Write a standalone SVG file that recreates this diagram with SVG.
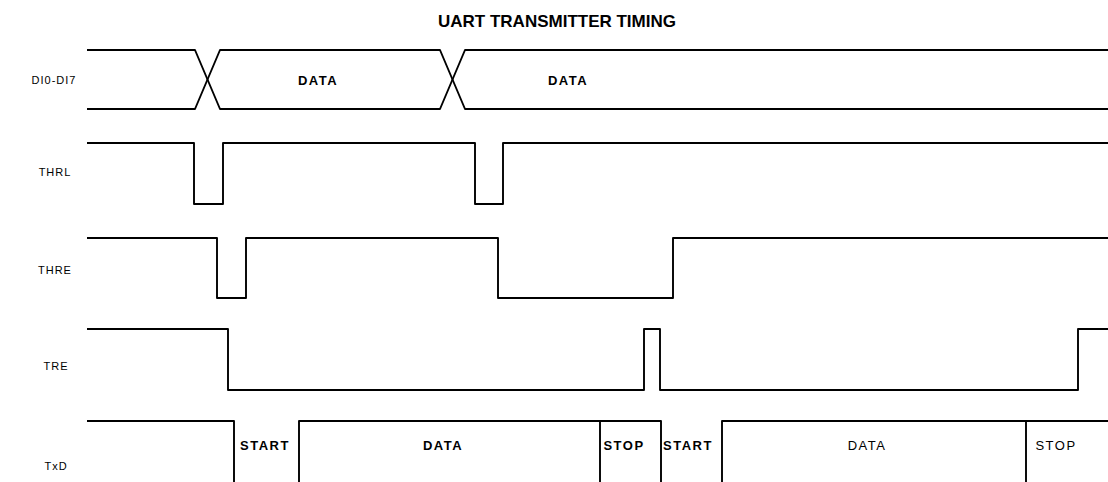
<svg xmlns="http://www.w3.org/2000/svg" width="1108" height="482" viewBox="0 0 1108 482">
<style>
.sig{fill:none;stroke:#000;stroke-width:1.9;stroke-linejoin:round;stroke-linecap:butt}
.lbl{font-family:"Liberation Sans",Arial,sans-serif;font-size:11px;fill:#000;letter-spacing:1px}
.dt{font-family:"Liberation Sans",Arial,sans-serif;font-size:13px;font-weight:bold;fill:#000;letter-spacing:1.5px}
.dl{font-family:"Liberation Sans",Arial,sans-serif;font-size:13px;fill:#000;letter-spacing:1.5px}
.title{font-family:"Liberation Sans",Arial,sans-serif;font-size:17px;font-weight:bold;fill:#000}
</style>
<rect width="1108" height="482" fill="#fff"/>
<text class="title" x="557" y="27" text-anchor="middle">UART TRANSMITTER TIMING</text>
<g id="connectors">
<g id="sig-di">
<path class="sig" d="M87,50 H195 L220,109 H440 L465,50 H1108"/>
<path class="sig" d="M87,109 H195 L220,50 H440 L465,109 H1108"/>
</g>
<path id="sig-thrl" class="sig" d="M87,143 H194 V204 H223 V143 H475 V204 H503 V143 H1108"/>
<path id="sig-thre" class="sig" d="M87,238 H217 V298 H246 V238 H498 V298 H673 V238 H1108"/>
<path id="sig-tre" class="sig" d="M87,329 H228 V390 H644 V329 H660 V390 H1078 V329 H1108"/>
<g id="sig-txd">
<path class="sig" d="M87,421 H234 V482"/>
<path class="sig" d="M299,482 V421 H661 V482"/>
<path class="sig" d="M600,421 V482"/>
<path class="sig" d="M722,482 V421 H1108"/>
<path class="sig" d="M1026,421 V482"/>
</g>
</g>
<g id="label-di"><text class="lbl" x="54" y="84" text-anchor="middle">DI0-DI7</text></g>
<g id="label-thrl"><text class="lbl" x="55" y="176" text-anchor="middle">THRL</text></g>
<g id="label-thre"><text class="lbl" x="55" y="274" text-anchor="middle">THRE</text></g>
<g id="label-tre"><text class="lbl" x="56" y="370" text-anchor="middle">TRE</text></g>
<g id="label-txd"><text class="lbl" x="56" y="470" text-anchor="middle">TxD</text></g>
<g id="di-data1"><text class="dt" x="318" y="85" text-anchor="middle">DATA</text></g>
<g id="di-data2"><text class="dt" x="568" y="85" text-anchor="middle">DATA</text></g>
<g id="txd-start1"><text class="dt" x="265" y="450" text-anchor="middle">START</text></g>
<g id="txd-data1"><text class="dt" x="443" y="450" text-anchor="middle">DATA</text></g>
<g id="txd-stop1"><text class="dt" x="624" y="450" text-anchor="middle">STOP</text></g>
<g id="txd-start2"><text class="dt" x="688" y="450" text-anchor="middle">START</text></g>
<g id="txd-data2"><text class="dl" x="867" y="450" text-anchor="middle">DATA</text></g>
<g id="txd-stop2"><text class="dl" x="1056" y="450" text-anchor="middle">STOP</text></g>
</svg>
